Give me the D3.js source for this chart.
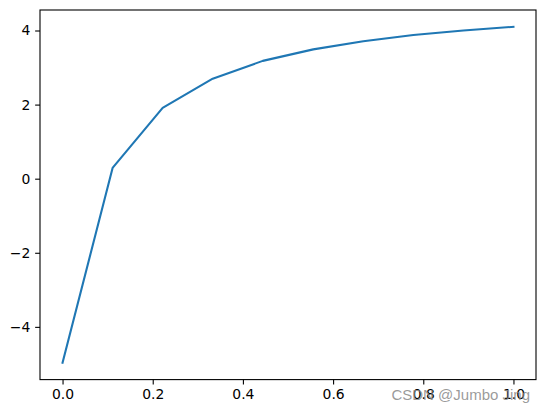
<!DOCTYPE html>
<html>
<head>
<meta charset="utf-8">
<script src="https://cdn.jsdelivr.net/npm/d3@7"></script>
<style>
  html, body { margin: 0; padding: 0; background: #fff; }
  svg { display: block; }
  .tick text { font-family: "DejaVu Sans", sans-serif; font-size: 13.9px; fill: #000; }
</style>
</head>
<body>
<div id="chart"></div>
<script>
// values
var xValues = [0, 0.111, 0.222, 0.333, 0.444, 0.556, 0.667, 0.778, 0.889, 1.0];
var yValues = [-4.97, 0.29, 1.91, 2.70, 3.18, 3.49, 3.71, 3.88, 4.00, 4.10];
var xTicks = [0, 0.2, 0.4, 0.6, 0.8, 1.0];
var yTicks = [-4, -2, 0, 2, 4];
var watermark = 'CSDN @Jumbo Jing';

var width = 546, height = 413;
var plot = { left: 40, right: 536, top: 10, bottom: 379.6 };
var tickLen = 4.86;

function padded(values) {
  var ext = d3.extent(values), pad = (ext[1] - ext[0]) * 0.05;
  return [ext[0] - pad, ext[1] + pad];
}

var x = d3.scaleLinear().domain(padded(xValues)).range([plot.left, plot.right]);
var y = d3.scaleLinear().domain(padded(yValues)).range([plot.bottom, plot.top]);

var svg = d3.select('#chart').append('svg')
  .attr('width', width)
  .attr('height', height);

var minus = function(v) { return v.replace('-', '\u2212'); };

var xAxis = svg.append('g')
  .attr('transform', 'translate(0,' + plot.bottom + ')')
  .call(d3.axisBottom(x)
    .tickValues(xTicks)
    .tickSize(tickLen)
    .tickPadding(4.86)
    .tickSizeOuter(0)
    .tickFormat(function(d) { return d3.format('.1f')(d); }));
xAxis.select('.domain').remove();

var yAxis = svg.append('g')
  .attr('transform', 'translate(' + plot.left + ',0)')
  .call(d3.axisLeft(y)
    .tickValues(yTicks)
    .tickSize(tickLen)
    .tickPadding(4.86)
    .tickSizeOuter(0)
    .tickFormat(function(d) { return minus(d3.format('d')(d)); }));
yAxis.select('.domain').remove();

svg.selectAll('.tick line').attr('stroke', '#000').attr('stroke-width', 1.1);

var line = d3.line()
  .x(function(d, i) { return x(xValues[i]); })
  .y(function(d) { return y(d); });

svg.append('path')
  .datum(yValues)
  .attr('d', line)
  .attr('fill', 'none')
  .attr('stroke', '#1f77b4')
  .attr('stroke-width', 2.1)
  .attr('stroke-linejoin', 'round')
  .attr('stroke-linecap', 'square');

svg.append('rect')
  .attr('x', plot.left)
  .attr('y', plot.top)
  .attr('width', plot.right - plot.left)
  .attr('height', plot.bottom - plot.top)
  .attr('fill', 'none')
  .attr('stroke', '#000')
  .attr('stroke-width', 1.1);

svg.append('text')
  .attr('x', 530)
  .attr('y', 400)
  .attr('text-anchor', 'end')
  .attr('font-family', '"Liberation Sans", Arial, sans-serif')
  .attr('font-size', 15)
  .attr('fill', '#888')
  .attr('fill-opacity', 0.85)
  .text(watermark);
</script>
</body>
</html>
